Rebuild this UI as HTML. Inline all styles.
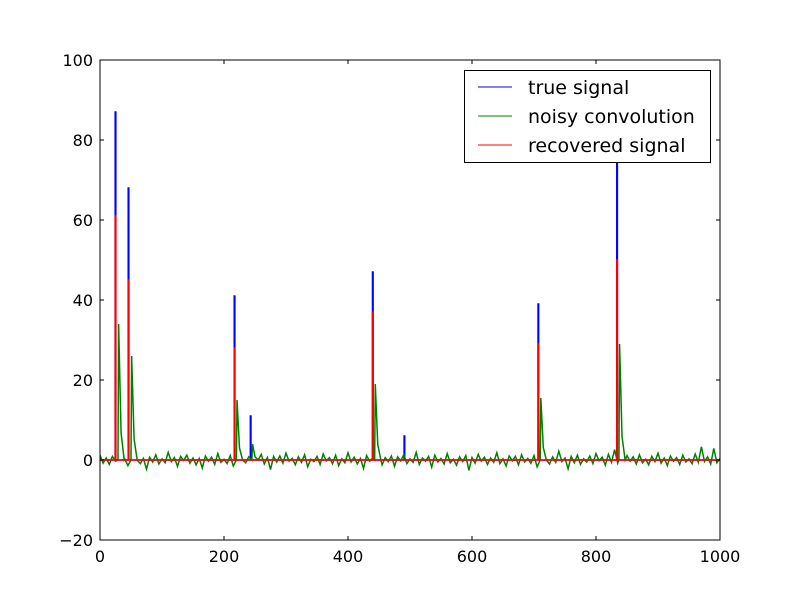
<!DOCTYPE html>
<html><head><meta charset="utf-8"><style>
body{margin:0;background:#fff}
svg{display:block;font-family:"DejaVu Sans","Liberation Sans",sans-serif}
</style></head><body>
<svg id="chart" width="800" height="600">
<defs><clipPath id="clip"><rect x="100" y="60" width="620" height="480"/></clipPath></defs>
<rect x="0" y="0" width="800" height="600" fill="#fff"/>
<g id="plot" clip-path="url(#clip)"></g>
<rect x="100" y="60" width="620" height="480" fill="none" stroke="#000" stroke-width="1"/>
<g id="ticks"></g>
<g>
<rect x="464.5" y="70.5" width="246" height="92" fill="#fff" stroke="#000"/>
<line x1="478" y1="87" x2="512" y2="87" stroke="#0000ff"/>
<text x="528" y="94" font-size="19">true signal</text>
<line x1="478" y1="116" x2="512" y2="116" stroke="#008000"/>
<text x="528" y="123" font-size="19">noisy convolution</text>
<line x1="478" y1="145" x2="512" y2="145" stroke="#ff0000"/>
<text x="528" y="152" font-size="19">recovered signal</text>
</g>
</svg>
<script>
const xTicks=[0,200,400,600,800,1000];
const yTicks=[-20,0,20,40,60,80,100];
const trueX=[25,46,217,243,440,491,707,834];
const trueY=[87,68,41,11,47,6,39,76];
const recX=[25,46,217,440,707,834];
const recY=[61,45,28,37,29,50];
const convX=[31,52,222,247,445,712,839];
const convY=[34,26,15,4,19,15.5,29];
const noise=[1.2,-0.8,0.5,-1.1,0.9,-0.3,1.5,-0.6,0.2,-1.4,0.8,-0.2,1.1,-0.9,0.4,-2.3,0.7,-0.5,1.3,-1.0,0.3,-0.7,1.9,-0.4,0.6,-1.6,0.9,-0.1,1.2,-0.8,0.5,-1.2,0.4,-2.0,1.0,-0.3,0.7,-1.1,1.6,-0.6,0.2,-0.9,1.1,-1.5,0.5,-0.2,2.1,-0.7,0.8,-1.3,0.3,-0.4,1.4,-1.0,0.6,-2.4,0.9,-0.5,1.0,-0.8,1.7,-0.3,0.4,-1.2,0.8,-0.6,1.3,-1.7,0.2,-0.4,0.9,-1.1,1.5,-0.2,0.6,-0.9,1.2,-1.4,0.3,-0.7,1.8,-0.5,0.7,-1.0,0.4,-2.1,1.1,-0.3,0.5,-0.8,1.4,-1.2,0.6,-0.4,1.0,-1.6,0.8,-0.2,1.3,-0.9,0.3,-0.6,1.9,-1.1,0.5,-0.3,0.9,-1.8,1.2,-0.5,0.4,-1.0,1.6,-0.7,0.2,-1.3,0.8,-0.4,1.1,-2.6,0.6,-0.8,1.4,-0.3,0.7,-1.1,0.5,-0.6,1.8,-0.9,0.3,-1.5,1.0,-0.2,0.9,-1.2,1.3,-0.5,0.4,-0.8,1.1,-1.7,0.6,-0.3,1.5,-1.0,0.8,-0.6,2.2,-0.4,0.5,-2.2,0.9,-0.7,1.2,-1.1,0.3,-0.5,1.0,-0.9,1.6,-0.2,0.7,-1.3,1.4,-0.6,2.6,-0.8,0.4,-1.9,1.1,-0.3,0.8,-1.0,1.3,-0.7,0.2,-1.2,0.9,-0.4,1.7,-0.8,0.5,-1.4,1.0,-0.3,0.6,-1.1,1.2,-0.5,0.3,-0.9,1.5,-0.6,3.3,-0.4,0.8,-1.0,2.9,-0.7,0.4,-0.5,1.1,-0.8];
const NS="http://www.w3.org/2000/svg";
const X=v=>100+v*0.62, Y=v=>460-v*4;
const plot=document.getElementById('plot');
function path(d,color,name){
  const p=document.createElementNS(NS,'path');
  p.setAttribute('d',d);p.setAttribute('fill','none');p.setAttribute('stroke',color);p.setAttribute('stroke-width','1.5');
  
  
  plot.appendChild(p);
}
function spikes(xs,ys){
  let d='M'+X(0)+','+Y(0);
  xs.forEach((x,i)=>{d+=' L'+X(x-0.5)+','+Y(0)+' L'+X(x-0.5)+','+Y(ys[i])+' L'+X(x+0.5)+','+Y(ys[i])+' L'+X(x+0.5)+','+Y(0);});
  return d+' L'+X(1000)+','+Y(0);
}
let pts=[];
noise.forEach((v,i)=>pts.push([i*5,v]));
convX.forEach((x,i)=>{
  pts=pts.filter(p=>p[0]<x-2||p[0]>x+8);
  pts.push([x-2,0],[x-1,convY[i]],[x+1,convY[i]*0.6],[x+3,convY[i]*0.2],[x+8,0]);
});
pts.sort((a,b)=>a[0]-b[0]);
path(spikes(trueX,trueY),'#0000ff','true-signal-line');
path('M'+pts.map(p=>X(p[0])+','+Y(p[1])).join(' L'),'#008000','noisy-convolution-line');
path(spikes(recX,recY),'#ff0000','recovered-signal-line');
const tg=document.getElementById('ticks');
function el(tag,attrs,name,txt){
  const e=document.createElementNS(NS,tag);
  for(const k in attrs)e.setAttribute(k,attrs[k]);
  
  
  if(txt!==undefined)e.textContent=txt;
  tg.appendChild(e);
}
xTicks.forEach(v=>{
  const x=X(v);
  el('line',{x1:x,y1:540,x2:x,y2:536,stroke:'#000'},'x-tick');
  el('line',{x1:x,y1:60,x2:x,y2:64,stroke:'#000'},'x-tick-top');
  el('text',{x:x,y:562,'font-size':16,'text-anchor':'middle'},'x-tick-label',String(v));
});
yTicks.forEach(v=>{
  const y=Y(v);
  el('line',{x1:100,y1:y,x2:104,y2:y,stroke:'#000'},'y-tick');
  el('line',{x1:720,y1:y,x2:716,y2:y,stroke:'#000'},'y-tick-right');
  el('text',{x:93,y:y+6,'font-size':16,'text-anchor':'end'},'y-tick-label',v<0?'\u2212'+Math.abs(v):String(v));
});
</script>
</body></html>
